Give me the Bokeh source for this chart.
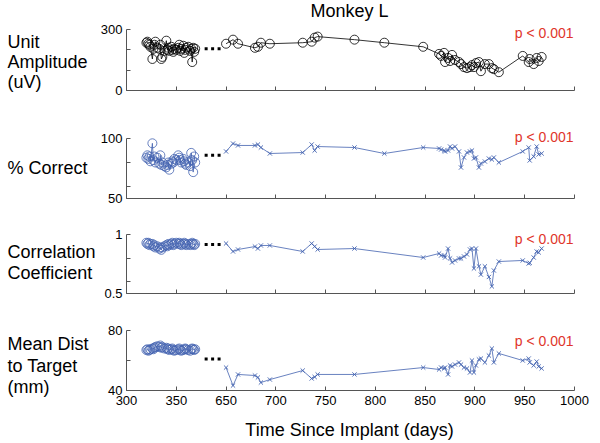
from bokeh.plotting import figure
from bokeh.layouts import column, row
from bokeh.models import Range1d, FixedTicker
from bokeh.core.properties import value
from bokeh.embed import file_html
from bokeh.resources import INLINE

# ---------------- data ----------------
early_days = [320, 321, 322, 323, 324, 326, 327, 328, 329, 331, 333, 334, 335, 336, 338,
              340, 341, 342, 343, 345, 346, 347, 348, 350, 352, 353, 354, 355, 357, 358,
              359, 360, 362, 364, 365, 366, 367, 368, 369]
late_days = [650, 657, 662, 679, 682, 685, 694, 727, 736, 739, 742, 779, 809, 848, 864,
             866, 869, 870, 873, 875, 877, 880, 884, 886, 889, 892, 895, 897, 899, 901,
             904, 906, 910, 914, 917, 919, 924, 948, 954, 955, 959, 962, 964, 967]
late_days_cd = [650, 657, 662, 679, 682, 685, 694, 727, 736, 739, 742, 779, 848, 864,
                866, 869, 870, 873, 875, 877, 880, 884, 886, 889, 892, 895, 897, 899, 901,
                904, 906, 910, 914, 917, 919, 924, 948, 954, 955, 959, 962, 964, 967]

amp_early = [235, 240, 230, 225, 215, 155, 205, 225, 240, 210, 205, 225, 155, 165, 195,
             245, 200, 210, 195, 215, 200, 190, 205, 200, 210, 225, 195, 205, 220, 185,
             200, 210, 215, 195, 205, 140, 210, 190, 205]
amp_late = [230, 250, 230, 210, 215, 235, 230, 235, 240, 260, 265, 250, 235, 215, 180,
            170, 185, 140, 160, 145, 175, 150, 140, 130, 115, 110, 115, 125, 115, 135,
            140, 95, 130, 130, 110, 105, 90, 170, 140, 155, 130, 160, 145, 165]

correct_early = [84, 86, 83, 85, 81, 96, 82, 85, 80, 84, 79, 86, 78, 80, 77,
                 76, 78, 80, 74, 79, 81, 80, 83, 82, 86, 84, 82, 80, 83, 81,
                 79, 78, 80, 77, 88, 82, 72, 85, 80]
correct_late = [89.2, 95.8, 94.2, 94.2, 95.0, 92.5, 87.5, 88.3, 95.0, 90.0, 93.3, 92.5, 87.5,
                92.5, 91.7, 90.8, 90.0, 89.2, 90.0, 93.3, 91.7, 93.3, 89.2, 75.8, 84.2, 88.3,
                89.2, 90.0, 83.3, 84.2, 75.8, 79.2, 80.8, 83.3, 82.5, 84.2, 80.0, 89.2, 92.5,
                81.7, 85.0, 93.3, 86.7, 87.5]

cc_early = [0.93, 0.92, 0.93, 0.91, 0.92, 0.92, 0.90, 0.91, 0.89, 0.90, 0.88, 0.89, 0.87,
            0.89, 0.90, 0.91, 0.90, 0.92, 0.91, 0.92, 0.93, 0.91, 0.92, 0.93, 0.92, 0.93,
            0.92, 0.91, 0.92, 0.93, 0.92, 0.91, 0.92, 0.91, 0.92, 0.93, 0.92, 0.91, 0.92]
cc_late = [0.924, 0.856, 0.873, 0.898, 0.881, 0.907, 0.907, 0.856, 0.924, 0.898, 0.873,
           0.881, 0.805, 0.839, 0.822, 0.822, 0.805, 0.881, 0.797, 0.763, 0.780, 0.797,
           0.797, 0.814, 0.831, 0.873, 0.881, 0.712, 0.881, 0.73, 0.66, 0.73, 0.64, 0.56,
           0.695, 0.771, 0.78, 0.754, 0.76, 0.805, 0.856, 0.848, 0.881]

dist_early = [67.0, 67.5, 66.5, 67.0, 67.5, 68.0, 67.5, 68.5, 69.0, 69.5, 69.0, 70.0, 68.5,
              69.0, 68.0, 68.5, 67.5, 68.0, 67.0, 67.5, 68.0, 67.0, 66.5, 67.0, 67.5, 68.0,
              67.0, 66.5, 67.0, 67.5, 68.0, 67.5, 67.0, 66.5, 67.5, 68.0, 67.5, 67.0, 67.5]
dist_late = [55.3, 43.3, 50.7, 50.0, 48.7, 45.3, 47.3, 53.3, 48.0, 49.0, 50.7, 50.7, 55.3,
             54.0, 55.3, 54.7, 55.3, 50.7, 56.7, 56.0, 57.3, 58.7, 57.3, 55.3, 54.7, 52.0,
             60.0, 52.0, 56.7, 60.7, 61.3, 58.7, 63.3, 68.0, 58.7, 64.7, 60.0, 61.3, 58.7,
             56.7, 59.3, 56.0, 54.7]

xtick_labels = ["300", "350", "650", "700", "750", "800", "850", "900", "950", "1000"]

panel_titles = [["Unit", "Amplitude", "(uV)"], ["% Correct"],
                ["Correlation", "Coefficient"], ["Mean Dist", "to Target", "(mm)"]]
y_limits = [(0, 300), (50, 100), (0.5, 1.0), (40, 80)]
y_ticks = [[0, 100, 200, 300], [50, 60, 80, 100], [0.5, 0.6, 0.8, 1.0], [40, 60, 80]]
y_tick_labels = [["0", "", "", "300"], ["50", "", "", "100"], ["0.5", "", "", "1"], ["40", "", "80"]]
p_text = "p < 0.001"
chart_title = "Monkey L"
x_title = "Time Since Implant (days)"
dots_level = [205, 86, 0.915, 61]

# ---------------- helpers ----------------
GAP = 250  # days removed by the axis break


def to_axis(d):
    return d if d < 500 else d - GAP


FONT = "Liberation Sans"
BLUE = "#4262b0"
AXC = "#555555"
RED = "#e0352b"
W_LEFT = 97
W_MAIN = 503
TOTAL_H = 443

xr = Range1d(300, 750)
xt = [to_axis(int(s)) for s in xtick_labels]

# (top border, extra headroom above axis top, axis height, bottom border), pixels
geom = [(0, 7, 61, 24), (14, 10, 60, 18), (8, 10, 59, 18), (9, 10, 60, 20)]
TOP_H = 22
BOT_H = TOTAL_H - TOP_H - sum(sum(g) for g in geom)
pval_offsets = [57.5, 61.5, 55, 50]   # text centre, pixels above axis bottom

# left column: text centres in page pixels
title_centers = [[41.5, 61.5, 81.5], [167.5], [251, 272.5], [343.5, 365, 386.5]]


def bare(width, height, y0, y1, xrange, left=0, right=0):
    f = figure(width=width, height=height, x_range=xrange, y_range=Range1d(y0, y1),
               output_backend="svg", toolbar_location=None, x_axis_type=None,
               y_axis_type=None, min_border_left=left, min_border_right=right,
               min_border_top=0, min_border_bottom=0)
    f.outline_line_color = None
    f.grid.visible = False
    return f


# left column with the panel names
left = bare(W_LEFT, TOTAL_H, TOTAL_H, 0, Range1d(0, W_LEFT))
lx, ly, lt = [], [], []
for names, cents in zip(panel_titles, title_centers):
    for n, c in zip(names, cents):
        lx.append(7)
        ly.append(c)
        lt.append(n)
left.text(x=lx, y=ly, text=lt, text_font=value(FONT), text_font_size="18px",
          text_color="black", text_align="left", text_baseline="middle")

# top strip with chart title
top = bare(W_MAIN, TOP_H, TOP_H, 0, xr, left=26, right=26)
top.text(x=[524], y=[10.5], text=[chart_title], text_font=value(FONT), text_font_size="18px",
         text_color="black", text_align="center", text_baseline="middle")

series = [
    (early_days, amp_early, late_days, amp_late, "black", "circle"),
    (early_days, correct_early, late_days, correct_late, BLUE, "x"),
    (early_days, cc_early, late_days_cd, cc_late, BLUE, "x"),
    (early_days, dist_early, late_days_cd, dist_late, BLUE, "x"),
]

figs = []
for i in range(4):
    tb, head, fh, bb = geom[i]
    lo, hi = y_limits[i]
    per_px = (hi - lo) / fh
    p = figure(width=W_MAIN, height=tb + head + fh + bb, x_range=xr,
               y_range=Range1d(lo, hi + head * per_px), output_backend="svg",
               toolbar_location=None, min_border_left=26, min_border_right=26,
               min_border_top=tb, min_border_bottom=bb)
    p.outline_line_color = None
    p.grid.visible = False

    ed, ev, ld, lv, col, mk = series[i]
    ex = [to_axis(d) for d in ed]
    lxx = [to_axis(d) for d in ld]
    p.line(ex, ev, line_color=col, line_width=0.8)
    p.scatter(ex, ev, marker="circle", size=9, fill_color=None, line_color=col, line_width=0.8)
    p.line(lxx, lv, line_color=col, line_width=0.8)
    if mk == "circle":
        p.scatter(lxx, lv, marker="circle", size=9, fill_color=None, line_color=col, line_width=0.8)
    else:
        p.scatter(lxx, lv, marker="x", size=6, line_color=col, line_width=0.9)

    # axis-break marker "..."
    p.scatter([380, 386.5, 393], [dots_level[i]] * 3, marker="square", size=3,
              fill_color="black", line_color=None)

    for ax in (p.xaxis[0], p.yaxis[0]):
        ax.axis_line_color = AXC
        ax.axis_line_width = 1
        ax.major_tick_line_color = AXC
        ax.major_tick_in = 4
        ax.major_tick_out = 0
        ax.minor_tick_line_color = None
        ax.major_label_text_font = FONT
        ax.major_label_text_font_size = "13px"
        ax.major_label_text_color = "black"
        ax.major_label_standoff = 4
    p.yaxis.bounds = (lo, hi)
    p.xaxis.ticker = FixedTicker(ticks=xt)
    if i == 3:
        p.xaxis.major_label_overrides = {t: s for t, s in zip(xt, xtick_labels)}
        p.xaxis.major_label_standoff = 5
    else:
        p.xaxis.major_label_overrides = {t: "" for t in xt}
    p.yaxis.ticker = FixedTicker(ticks=y_ticks[i])
    p.yaxis.major_label_overrides = {t: s for t, s in zip(y_ticks[i], y_tick_labels[i])}

    p.text(x=[749], y=[lo + pval_offsets[i] * per_px], text=[p_text],
           text_font=value(FONT), text_font_size="14px", text_color=RED,
           text_align="right", text_baseline="middle")
    figs.append(p)

# bottom strip with x-axis title
bot = bare(W_MAIN, BOT_H, TOTAL_H, TOTAL_H - BOT_H, xr, left=26, right=26)
bot.text(x=[524], y=[429.5], text=[x_title], text_font=value(FONT), text_font_size="18px",
         text_color="black", text_align="center", text_baseline="middle")

layout = row(left, column(top, *figs, bot, spacing=0), spacing=0)
open("out.html", "w").write(file_html(layout, INLINE))
